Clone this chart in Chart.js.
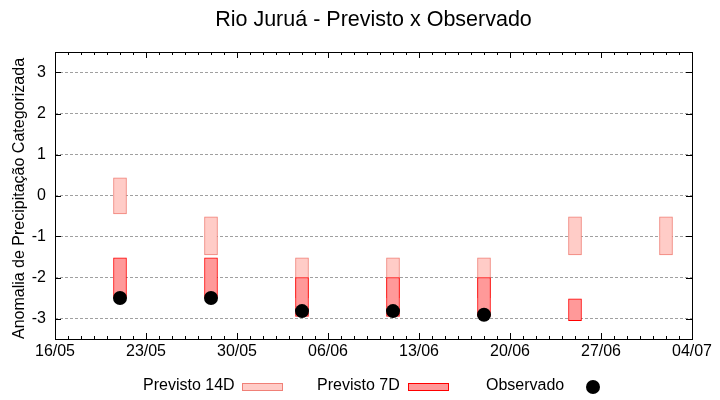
<!DOCTYPE html>
<html><head><meta charset="utf-8">
<script src="https://cdn.jsdelivr.net/npm/chart.js@4/dist/chart.umd.min.js"></script>
<style>html,body{margin:0;padding:0;background:#fff}</style>
</head><body>
<canvas id="c" width="720" height="400"></canvas>
<script>
const titleText = 'Rio Juruá - Previsto x Observado';
const yAxisTitle = 'Anomalia de Precipitação Categorizada';
const legendLabels = ['Previsto 14D', 'Previsto 7D', 'Observado'];
const year = 2024;
const axisStart = '16/05';
const axisEnd = '04/07';
const prev14Dates = ['21/05','28/05','04/06','11/06','18/06','25/06','02/07'];
const prev14Low  = [-0.45, -1.45, -2.5, -2.5, -2.5, -1.45, -1.45];
const prev14High = [0.43, -0.52, -1.52, -1.52, -1.52, -0.52, -0.52];
const prev7Dates = ['21/05','28/05','04/06','11/06','18/06','25/06'];
const prev7Low  = [-2.5, -2.5, -2.95, -2.95, -2.95, -3.05];
const prev7High = [-1.52, -1.52, -2.0, -2.0, -2.0, -2.52];
const obsDates  = ['21/05','28/05','04/06','11/06','18/06'];
const obsValues = [-2.5, -2.5, -2.82, -2.82, -2.91];
const yTicks = [-3, -2, -1, 0, 1, 2, 3];

const FONT = '"Liberation Sans", Arial, sans-serif';
function toUTC(s){ const [d,m] = s.split('/').map(Number); return Date.UTC(year, m-1, d); }
const t0 = toUTC(axisStart);
function toDay(s){ return Math.round((toUTC(s) - t0) / 86400000); }
function fmtDay(v){ const dt = new Date(t0 + v*86400000); return String(dt.getUTCDate()).padStart(2,'0') + '/' + String(dt.getUTCMonth()+1).padStart(2,'0'); }
const xMax = toDay(axisEnd);

const framePlugin = {
  id: 'frame',
  afterDraw(chart){
    const ctx = chart.ctx, a = chart.chartArea;
    const xs = chart.scales.x, ys = chart.scales.y;
    ctx.save();
    ctx.strokeStyle = '#000'; ctx.lineWidth = 1;
    ctx.strokeRect(Math.round(a.left)+0.5, Math.round(a.top)+0.5, Math.round(a.right-a.left), Math.round(a.bottom-a.top));
    ctx.beginPath();
    yTicks.forEach(v => {
      const y = Math.round(ys.getPixelForValue(v)) + 0.5;
      ctx.moveTo(a.left, y); ctx.lineTo(a.left + 6, y);
      ctx.moveTo(a.right, y); ctx.lineTo(a.right - 6, y);
    });
    for (let d = 0; d <= xMax; d++) {
      const x = Math.round(xs.getPixelForValue(d)) + 0.5;
      const len = (d % 7 === 0) ? 6 : 3;
      ctx.moveTo(x, a.bottom); ctx.lineTo(x, a.bottom - len);
      ctx.moveTo(x, a.top); ctx.lineTo(x, a.top + len);
    }
    ctx.stroke();
    ctx.fillStyle = '#000';
    // title
    ctx.font = '21.5px ' + FONT;
    ctx.textAlign = 'center'; ctx.textBaseline = 'middle';
    ctx.fillText(titleText, (a.left + a.right)/2, 20);
    // y axis title
    ctx.save();
    ctx.translate(20, (a.top + a.bottom)/2 + 3);
    ctx.rotate(-Math.PI/2);
    ctx.font = '16px ' + FONT;
    ctx.fillText(yAxisTitle, 0, 0);
    ctx.restore();
    // legend
    ctx.font = '16px ' + FONT;
    ctx.textAlign = 'left';
    const ly = 386;
    ctx.fillText(legendLabels[0], 143, ly);
    ctx.fillStyle = '#FFCCC7'; ctx.fillRect(242, 383, 40, 7);
    ctx.strokeStyle = '#F08077'; ctx.strokeRect(242.5, 383.5, 40, 7);
    ctx.fillStyle = '#000';
    ctx.fillText(legendLabels[1], 317, ly);
    ctx.fillStyle = '#FF9999'; ctx.fillRect(408, 383, 40, 7);
    ctx.strokeStyle = '#FF0000'; ctx.strokeRect(408.5, 383.5, 40, 7);
    ctx.fillStyle = '#000';
    ctx.fillText(legendLabels[2], 486, ly);
    ctx.beginPath(); ctx.arc(593, 387, 7, 0, Math.PI*2); ctx.fill();
    ctx.restore();
  }
};

new Chart(document.getElementById('c'), {
  type: 'bar',
  data: { datasets: [
    { type: 'bar', label: legendLabels[0],
      data: prev14Dates.map((d,i) => ({x: toDay(d), y: [prev14Low[i], prev14High[i]]})),
      backgroundColor: '#FFCCC7', borderColor: '#F08077', borderWidth: 1, borderSkipped: false,
      barThickness: 13, grouped: false, order: 3 },
    { type: 'bar', label: legendLabels[1],
      data: prev7Dates.map((d,i) => ({x: toDay(d), y: [prev7Low[i], prev7High[i]]})),
      backgroundColor: '#FF9999', borderColor: '#FF0000', borderWidth: 1, borderSkipped: false,
      barThickness: 13, grouped: false, order: 2 },
    { type: 'scatter', label: legendLabels[2],
      data: obsDates.map((d,i) => ({x: toDay(d), y: obsValues[i]})),
      pointRadius: 7, pointHoverRadius: 7, backgroundColor: '#000', borderColor: '#000', borderWidth: 0, order: 1 }
  ]},
  options: {
    responsive: false, animation: false, devicePixelRatio: 1,
    layout: { padding: { top: 52, right: 28, bottom: 31, left: 0 } },
    plugins: { legend: { display: false }, tooltip: { enabled: false }, title: { display: false } },
    scales: {
      x: { type: 'linear', min: 0, max: xMax, offset: false,
        afterBuildTicks: s => { const t = []; for (let d = 0; d <= xMax; d += 7) t.push({value: d}); s.ticks = t; },
        ticks: { callback: v => fmtDay(v), font: { size: 16, family: FONT }, color: '#000', padding: 3, maxRotation: 0, autoSkip: false },
        grid: { display: false, drawTicks: false, offset: false }, border: { display: false },
        afterFit: s => { s.height = 30; s.paddingLeft = 0; s.paddingRight = 0; } },
      y: { type: 'linear', min: -3.5, max: 3.5,
        afterBuildTicks: s => { s.ticks = yTicks.map(v => ({value: v})); },
        ticks: { font: { size: 16, family: FONT }, color: '#000', padding: 9 },
        grid: { color: '#a0a0a0', lineWidth: 1, drawTicks: false }, border: { display: false, dash: [3, 2] },
        title: { display: false },
        afterFit: s => { s.width = 55; s.paddingTop = 0; s.paddingBottom = 0; } }
    }
  },
  plugins: [framePlugin]
});
</script>
</body></html>
